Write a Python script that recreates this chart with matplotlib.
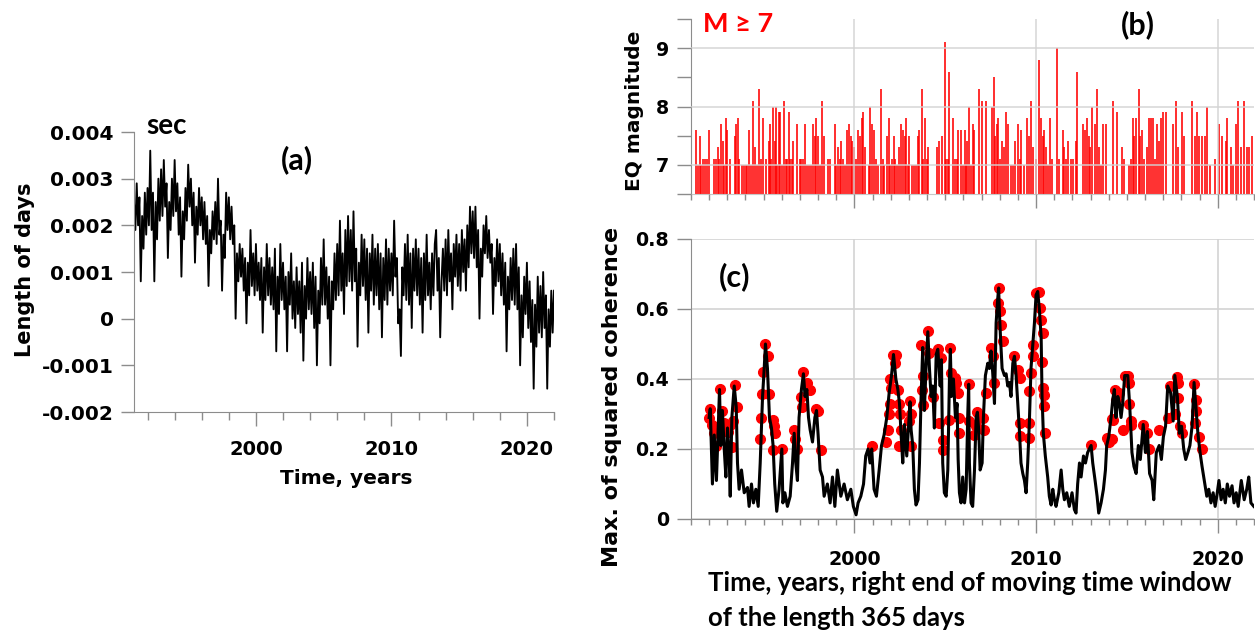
import matplotlib
matplotlib.use("Agg")
import matplotlib.pyplot as plt
from matplotlib.ticker import FixedLocator, MultipleLocator, NullFormatter
import numpy as np

# ---------------- data ----------------
# (a) length of day excess, ms, sampled every 0.1 yr from 1991.0
lod_start = 1991.0
lod_step = 0.1
lod_ms = [
    2.5, 1.9, 2.9, 2.0, 2.6, 0.8, 2.2, 1.5, 2.7, 1.8,
    2.8, 2.0, 3.6, 1.9, 2.7, 0.8, 2.5, 1.7, 3.0, 2.1,
    3.2, 2.2, 3.4, 2.4, 2.9, 1.3, 2.5, 1.9, 3.0, 2.2,
    3.4, 2.3, 2.9, 1.8, 2.6, 0.9, 2.3, 1.7, 2.8, 2.1,
    3.3, 2.4, 3.0, 2.0, 2.7, 1.2, 2.4, 1.8, 2.8, 2.0,
    2.6, 1.7, 2.5, 1.6, 2.2, 0.7, 1.9, 1.4, 2.3, 1.7,
    2.5, 1.6, 3.0, 1.8, 2.1, 0.6, 1.8, 1.3, 2.7, 1.9,
    2.6, 1.7, 2.4, 1.6, 2.0, 0.0, 1.4, 0.8, 1.6, 0.9,
    1.5, 0.6, 1.3, -0.1, 1.2, 0.5, 1.9, 0.7, 1.4, 0.5,
    1.6, 0.6, 1.2, 0.4, 1.3, -0.3, 1.1, 0.4, 1.6, 0.5,
    1.3, 0.3, 1.1, 0.2, 1.5, -0.7, 0.9, 0.1, 1.6, 0.4,
    1.2, 0.2, 0.9, -0.7, 1.0, 0.3, 1.4, 0.0, 0.8, -0.2,
    1.1, 0.1, 0.8, -0.3, 1.2, -0.9, 0.7, 0.0, 1.3, 0.2,
    1.0, 0.1, 1.2, -0.2, 0.9, -1.0, 0.6, -0.1, 1.3, 0.3,
    1.7, 0.3, 1.1, 0.0, 0.9, -1.0, 0.8, 0.2, 1.4, 0.4,
    1.6, 0.5, 2.1, 0.6, 1.4, 0.1, 1.9, 0.7, 2.2, 0.8,
    1.9, 0.6, 2.3, 0.8, 1.5, -0.6, 1.2, 0.5, 1.8, 0.7,
    1.7, 0.4, 1.5, -0.3, 1.4, 0.6, 1.8, 0.3, 1.5, 0.5,
    1.6, 0.2, 1.4, -0.4, 1.3, 0.4, 1.7, 0.3, 1.5, 0.6,
    1.4, 0.5, 2.1, 0.9, 1.3, -0.1, 0.2, -0.8, 1.1, 0.5,
    1.6, 0.4, 1.8, 0.3, 1.4, -0.2, 1.5, 0.6, 1.7, 0.5,
    1.5, 0.3, 1.3, -0.3, 1.4, 0.4, 1.8, 0.5, 1.2, 0.2,
    1.4, 0.5, 1.6, 1.9, 0.6, 1.3, -0.4, 0.8, 1.5, 0.6,
    1.7, 0.5, 1.9, 0.8, 1.4, 0.2, 1.6, 0.9, 1.8, 0.7,
    1.6, 0.6, 1.9, 1.0, 1.7, 0.6, 2.0, 1.1, 2.4, 1.4,
    2.3, 1.3, 2.4, 1.1, 1.9, 0.0, 1.5, 0.9, 2.0, 1.4,
    2.2, 1.3, 1.9, 1.2, 1.6, 0.1, 1.3, 0.7, 1.7, 0.8,
    1.6, 0.5, 1.4, 0.3, 1.2, -0.7, 0.9, 0.2, 1.3, 0.4,
    1.5, 0.3, 1.6, 0.2, 1.1, -1.0, 0.5, -0.4, 0.9, 0.1,
    1.2, -0.2, 0.8, -0.5, 0.4, -1.5, 0.3, -0.6, 0.9, -0.3,
    0.7, -0.4, 1.0, -0.2, 0.5, -1.5, 0.2, -0.6, 0.6, -0.3,
    0.6,
]
lod_ticks = [-0.002, -0.001, 0.0, 0.001, 0.002, 0.003, 0.004]
lod_ticklabels = ["-0.002", "-0.001", "0", "0.001", "0.002", "0.003", "0.004"]

# (b) earthquakes M >= 7: time (yr) and magnitude
eq_years = [
    1991.00, 1991.29, 1991.39, 1991.48, 1991.57, 1991.66, 1991.75, 1991.86, 1991.97,
    1992.28, 1992.38, 1992.47, 1992.56, 1992.65, 1992.74, 1992.83, 1992.91, 1993.00,
    1993.17, 1993.40, 1993.50, 1993.59, 1993.66, 1993.83, 1993.92, 1994.01, 1994.08,
    1994.17, 1994.32, 1994.41, 1994.52, 1994.65, 1994.74, 1994.83, 1994.96,
    1995.11, 1995.28, 1995.35, 1995.42, 1995.51, 1995.61, 1995.68, 1995.75, 1995.84, 1995.92,
    1996.01, 1996.12, 1996.21, 1996.28, 1996.38, 1996.47, 1996.54, 1996.61, 1996.82,
    1996.98, 1997.07, 1997.15, 1997.28, 1997.37, 1997.48, 1997.59, 1997.72, 1997.81, 1997.90, 1997.99,
    1998.12, 1998.21,
    1998.33, 1998.55, 1998.64, 1998.92, 1999.01, 1999.12, 1999.21, 1999.28, 1999.38, 1999.47,
    1999.61, 1999.71, 1999.80, 1999.89, 1999.98,
    2000.07, 2000.22, 2000.31, 2000.40, 2000.48, 2000.59, 2000.81, 2000.88, 2000.97,
    2001.06, 2001.16, 2001.27, 2001.47, 2001.56, 2001.65, 2001.80, 2001.89, 2001.96,
    2002.07, 2002.17, 2002.26, 2002.37, 2002.48, 2002.59, 2002.68, 2002.77, 2002.84, 2002.94,
    2003.03, 2003.17, 2003.30, 2003.39, 2003.50, 2003.58, 2003.72, 2003.80, 2003.89, 2003.98,
    2004.07, 2004.53, 2004.64, 2004.83, 2004.97, 2005.06, 2005.14, 2005.23, 2005.41, 2005.54,
    2005.65, 2005.72, 2005.85, 2005.96,
    2006.06, 2006.15, 2006.22, 2006.31, 2006.39, 2006.50, 2006.59,
    2006.84, 2007.01, 2007.25, 2007.58, 2007.67, 2007.74, 2007.83, 2007.93, 2008.00, 2008.13,
    2008.26, 2008.35, 2008.48, 2008.61, 2008.72, 2008.84, 2008.99, 2009.10, 2009.19, 2009.36,
    2009.50, 2009.61, 2009.72, 2009.82,
    2010.00, 2010.17, 2010.26, 2010.39, 2010.46, 2010.57, 2010.68, 2010.79, 2010.88, 2011.17,
    2011.27, 2011.49, 2011.56, 2011.65, 2011.78, 2011.93,
    2012.04, 2012.18, 2012.26, 2012.59, 2012.68, 2012.79, 2012.92, 2012.99, 2013.08, 2013.25,
    2013.36, 2013.49, 2013.58, 2013.71, 2013.83,
    2014.24, 2014.46, 2014.73, 2014.86,
    2015.12, 2015.23, 2015.32, 2015.42, 2015.53, 2015.65, 2015.74, 2015.86, 2015.97,
    2016.09, 2016.20, 2016.32, 2016.44, 2016.55, 2016.67, 2016.78, 2016.90, 2017.01, 2017.13,
    2017.55, 2017.71, 2017.82, 2018.01, 2018.13, 2018.59, 2018.75, 2018.87, 2018.98,
    2019.14, 2019.28, 2019.40, 2019.56, 2019.84, 2020.07, 2020.25, 2020.44, 2020.53, 2020.72,
    2020.83, 2021.02, 2021.11, 2021.30, 2021.46, 2021.60, 2021.71, 2021.88,
]
eq_mag = [
    7.0, 7.6, 7.0, 7.5, 7.0, 7.1, 7.1, 7.1, 7.6,
    7.1, 7.1, 7.3, 7.1, 7.7, 7.4, 7.0, 7.8, 7.6,
    7.1, 7.5, 7.7, 7.8, 7.1, 7.0, 7.0, 7.0, 7.0,
    7.6, 7.0, 8.1, 7.3, 7.0, 8.3, 7.1, 7.8,
    7.1, 7.4, 7.7, 7.1, 8.0, 7.4, 8.0, 7.0, 7.9, 7.9,
    7.0, 8.1, 7.1, 7.1, 7.9, 7.1, 7.1, 7.4, 7.7,
    7.1, 7.1, 7.1, 7.7, 7.0, 7.0, 7.0, 7.7, 7.5, 7.8, 7.5,
    7.0, 8.1,
    7.5, 7.1, 7.1, 7.7, 7.0, 7.3, 7.1, 7.4, 7.1, 7.0,
    7.6, 7.7, 7.5, 7.4, 7.3,
    7.1, 7.6, 7.5, 7.8, 7.9, 7.3, 7.0, 8.0, 7.7,
    7.6, 7.1, 7.0, 8.3, 7.1, 7.0, 7.5, 7.8, 7.0,
    7.1, 7.5, 7.1, 7.0, 7.3, 7.7, 7.6, 7.5, 7.8, 7.0,
    7.5, 7.0, 7.0, 7.0, 7.5, 7.6, 8.3, 7.1, 7.8, 7.1,
    7.3, 7.3, 7.4, 7.5, 9.1, 7.1, 7.1, 8.6, 7.8, 7.1,
    7.1, 7.6, 7.6, 7.0,
    7.6, 7.0, 7.4, 8.0, 7.0, 7.7, 7.6,
    8.3, 8.1, 8.1, 8.0, 8.5, 7.5, 7.7, 7.8, 7.1, 7.4,
    7.3, 7.9, 7.7, 7.0, 7.0, 7.4, 7.7, 7.1, 7.6, 7.0,
    7.8, 7.5, 8.1, 7.3,
    7.1, 8.8, 7.8, 7.5, 7.6, 7.3, 7.0, 7.8, 7.1, 9.0,
    7.1, 7.6, 7.3, 7.1, 7.4, 7.1,
    7.1, 7.4, 8.6, 7.7, 7.6, 7.8, 7.5, 7.3, 8.0, 7.7,
    8.3, 7.3, 7.0, 7.7, 7.7,
    8.1, 7.9, 7.3, 7.1,
    7.0, 7.1, 7.8, 7.5, 7.8, 8.3, 7.5, 7.6, 7.1,
    7.3, 7.8, 7.8, 7.8, 7.1, 7.7, 7.4, 7.8, 7.9, 7.9,
    7.7, 8.1, 7.3, 7.9, 7.5, 8.1, 7.5, 7.9, 7.5,
    7.5, 7.5, 8.0, 7.0, 7.1, 7.7, 7.5, 7.4, 7.8, 7.3,
    7.0, 7.7, 8.1, 7.3, 8.1, 7.3, 7.3, 7.5,
]
mag_ticks = [7, 8, 9]
mag_ticklabels = ["7", "8", "9"]

# (c) maximum of squared coherence (right end of 365-day window)
coh_years = [
    1992.00, 1992.06, 1992.18, 1992.28, 1992.40, 1992.57, 1992.64, 1992.73, 1992.83, 1992.92,
    1993.01, 1993.10, 1993.16, 1993.25, 1993.38, 1993.49, 1993.56, 1993.65, 1993.78, 1993.93,
    1994.11, 1994.20, 1994.33, 1994.44, 1994.57, 1994.70, 1994.81, 1994.94, 1995.03, 1995.10,
    1995.21, 1995.32, 1995.43, 1995.52, 1995.61, 1995.72, 1995.85, 1996.00, 1996.06, 1996.17,
    1996.31, 1996.46, 1996.59, 1996.68, 1996.77, 1996.86, 1996.95, 1997.08, 1997.19, 1997.28,
    1997.38, 1997.47, 1997.56, 1997.69, 1997.82, 1997.91, 1998.00, 1998.11, 1998.24, 1998.33,
    1998.51, 1998.66, 1998.79, 1998.92, 1999.06, 1999.25, 1999.43, 1999.61, 1999.80, 1999.94,
    2000.09, 2000.20, 2000.35, 2000.50, 2000.62, 2000.75, 2000.86, 2000.95, 2001.08, 2001.21,
    2001.36, 2001.49, 2001.63, 2001.78, 2001.91, 2002.04, 2002.15, 2002.28, 2002.39, 2002.48,
    2002.57, 2002.66, 2002.75, 2002.88, 2003.06, 2003.12, 2003.21, 2003.30, 2003.39, 2003.50,
    2003.58, 2003.67, 2003.76, 2003.85, 2003.94, 2004.04, 2004.13, 2004.22, 2004.31, 2004.40,
    2004.50, 2004.59, 2004.72, 2004.79, 2004.86, 2004.95, 2005.05, 2005.14, 2005.23, 2005.28,
    2005.34, 2005.45, 2005.56, 2005.65, 2005.71, 2005.78, 2005.87, 2005.96, 2006.06, 2006.15,
    2006.24, 2006.29, 2006.33, 2006.42, 2006.51, 2006.61, 2006.70, 2006.77, 2006.84, 2006.92,
    2007.03, 2007.10, 2007.21, 2007.34, 2007.43, 2007.52, 2007.61, 2007.71, 2007.80, 2007.89,
    2007.94, 2007.98, 2008.06, 2008.13, 2008.26, 2008.35, 2008.44, 2008.53, 2008.62, 2008.72,
    2008.81, 2008.90, 2008.99, 2009.08, 2009.17, 2009.27, 2009.36, 2009.45, 2009.54, 2009.63,
    2009.72, 2009.82, 2009.91, 2010.00, 2010.09, 2010.18, 2010.28, 2010.33, 2010.40, 2010.51,
    2010.64, 2010.73, 2010.83, 2010.92, 2011.01, 2011.10, 2011.25, 2011.38, 2011.47, 2011.56,
    2011.69, 2011.83, 2011.98, 2012.11, 2012.20, 2012.29, 2012.39, 2012.48, 2012.61, 2012.72,
    2012.84, 2013.03, 2013.12, 2013.25, 2013.36, 2013.45, 2013.58, 2013.71, 2013.82, 2013.89,
    2014.00, 2014.13, 2014.22, 2014.31, 2014.40, 2014.50, 2014.59, 2014.68, 2014.77, 2014.88,
    2015.05, 2015.16, 2015.28, 2015.39, 2015.51, 2015.63, 2015.74, 2015.90, 2016.02, 2016.13,
    2016.25, 2016.39, 2016.48, 2016.62, 2016.78, 2016.90, 2017.01, 2017.13, 2017.25, 2017.41,
    2017.55, 2017.64, 2017.78, 2017.89, 2018.01, 2018.13, 2018.24, 2018.36, 2018.47, 2018.59,
    2018.70, 2018.80, 2018.91, 2019.03, 2019.14, 2019.26, 2019.40, 2019.51, 2019.63, 2019.75,
    2019.86, 2019.95, 2020.07, 2020.19, 2020.30, 2020.42, 2020.53, 2020.65, 2020.79, 2020.90,
    2021.02, 2021.13, 2021.30, 2021.46, 2021.60, 2021.71, 2021.83, 2021.99,
]
coh_vals = [
    0.29, 0.315, 0.10, 0.24, 0.11, 0.37, 0.21, 0.31, 0.20, 0.12,
    0.26, 0.18, 0.065, 0.29, 0.38, 0.32, 0.16, 0.085, 0.14, 0.075,
    0.09, 0.036, 0.10, 0.046, 0.085, 0.036, 0.16, 0.35, 0.43, 0.50,
    0.43, 0.29, 0.26, 0.21, 0.10, 0.022, 0.085, 0.20, 0.046, 0.075,
    0.036, 0.065, 0.16, 0.245, 0.16, 0.11, 0.29, 0.37, 0.415, 0.35,
    0.37, 0.29, 0.255, 0.22, 0.29, 0.31, 0.24, 0.14, 0.12, 0.065,
    0.10, 0.046, 0.12, 0.036, 0.14, 0.065, 0.10, 0.055, 0.085, 0.036,
    0.012, 0.046, 0.065, 0.10, 0.18, 0.20, 0.16, 0.20, 0.085, 0.065,
    0.14, 0.21, 0.24, 0.29, 0.36, 0.41, 0.47, 0.40, 0.37, 0.33,
    0.24, 0.16, 0.27, 0.18, 0.335, 0.255, 0.21, 0.085, 0.04, 0.055,
    0.16, 0.35, 0.49, 0.31, 0.43, 0.535, 0.43, 0.35, 0.38, 0.26,
    0.47, 0.485, 0.38, 0.455, 0.16, 0.075, 0.065, 0.14, 0.40, 0.485,
    0.35, 0.40, 0.29, 0.33, 0.17, 0.075, 0.046, 0.12, 0.046, 0.085,
    0.30, 0.385, 0.16, 0.046, 0.036, 0.14, 0.29, 0.305, 0.255, 0.14,
    0.16, 0.29, 0.41, 0.445, 0.43, 0.48, 0.42, 0.33, 0.56, 0.63,
    0.66, 0.59, 0.50, 0.43, 0.41, 0.415, 0.38, 0.39, 0.35, 0.445,
    0.465, 0.41, 0.33, 0.255, 0.16, 0.13, 0.11, 0.075, 0.16, 0.275,
    0.43, 0.50, 0.56, 0.64, 0.65, 0.60, 0.52, 0.35, 0.245, 0.18,
    0.12, 0.065, 0.04, 0.085, 0.055, 0.036, 0.075, 0.14, 0.085, 0.055,
    0.075, 0.036, 0.075, 0.027, 0.017, 0.10, 0.16, 0.12, 0.18, 0.16,
    0.19, 0.21, 0.16, 0.11, 0.065, 0.017, 0.046, 0.085, 0.14, 0.21,
    0.235, 0.29, 0.34, 0.37, 0.29, 0.35, 0.33, 0.29, 0.33, 0.41,
    0.41, 0.32, 0.19, 0.15, 0.13, 0.21, 0.17, 0.27, 0.19, 0.25,
    0.13, 0.11, 0.055, 0.19, 0.21, 0.17, 0.235, 0.265, 0.38, 0.36,
    0.28, 0.41, 0.35, 0.245, 0.265, 0.20, 0.17, 0.19, 0.21, 0.265,
    0.39, 0.32, 0.245, 0.19, 0.15, 0.11, 0.065, 0.085, 0.046, 0.075,
    0.036, 0.065, 0.11, 0.055, 0.085, 0.046, 0.10, 0.065, 0.095, 0.046,
    0.075, 0.036, 0.11, 0.055, 0.085, 0.12, 0.046, 0.036,
]
# coherence values at earthquake times (red dots)
dot_years = [
    1992.00, 1992.04, 1992.13, 1992.28, 1992.37, 1992.57, 1992.68, 1992.79, 1993.01, 1993.16,
    1993.25, 1993.34, 1993.43, 1993.54, 1994.81, 1994.84, 1994.90, 1994.95, 1995.08, 1995.25,
    1995.32, 1995.49, 1995.55, 1995.61, 1995.50, 1996.00, 1996.68, 1996.72, 1996.86, 1997.05,
    1997.10, 1997.19, 1997.41, 1997.56, 1997.91, 1998.02, 1998.18, 2000.95, 2001.72, 2001.82,
    2001.91, 2001.94, 2001.96, 2002.00, 2002.15, 2002.22, 2002.29, 2002.39, 2002.48, 2002.51,
    2002.57, 2002.44, 2003.06, 2003.12, 2003.03, 2003.12, 2003.67, 2003.76, 2004.04, 2003.72,
    2003.76, 2004.13, 2004.31, 2004.59, 2004.77, 2004.68, 2004.86, 2004.86, 2005.28, 2005.34,
    2005.52, 2005.60, 2005.69, 2005.78, 2005.78, 2005.23, 2006.29, 2006.29, 2006.77, 2006.70,
    2006.61, 2007.10, 2007.16, 2007.25, 2007.52, 2007.61, 2007.71, 2007.94, 2007.89, 2008.02,
    2008.07, 2008.17, 2008.81, 2008.99, 2009.12, 2009.12, 2009.12, 2009.63, 2009.63, 2009.63,
    2009.72, 2009.82, 2009.82, 2010.00, 2010.15, 2010.22, 2010.28, 2010.37, 2010.33, 2010.37,
    2010.42, 2010.46, 2010.51, 2013.03, 2013.89, 2014.00, 2014.17, 2014.17, 2014.22, 2014.35,
    2014.40, 2014.58, 2014.77, 2014.88, 2015.05, 2015.09, 2015.09, 2015.23, 2015.23, 2015.90,
    2016.09, 2016.20, 2016.78, 2017.25, 2017.36, 2017.64, 2017.78, 2017.82, 2017.82, 2017.94,
    2018.06, 2018.70, 2018.80, 2018.80, 2018.75, 2018.98, 2019.14,
]
dot_vals = [
    0.29, 0.315, 0.27, 0.245, 0.21, 0.372, 0.31, 0.275, 0.25, 0.27,
    0.205, 0.28, 0.382, 0.32, 0.23, 0.29, 0.356, 0.42, 0.50, 0.465,
    0.358, 0.284, 0.265, 0.245, 0.198, 0.20, 0.255, 0.23, 0.20, 0.35,
    0.32, 0.42, 0.39, 0.37, 0.315, 0.31, 0.196, 0.208, 0.22, 0.255,
    0.30, 0.40, 0.33, 0.375, 0.47, 0.445, 0.47, 0.37, 0.33, 0.30,
    0.255, 0.21, 0.336, 0.30, 0.28, 0.21, 0.498, 0.41, 0.536, 0.37,
    0.327, 0.474, 0.35, 0.486, 0.46, 0.274, 0.227, 0.198, 0.489, 0.417,
    0.403, 0.39, 0.36, 0.29, 0.246, 0.284, 0.387, 0.28, 0.305, 0.265,
    0.24, 0.289, 0.255, 0.36, 0.489, 0.465, 0.389, 0.66, 0.617, 0.593,
    0.555, 0.508, 0.467, 0.427, 0.403, 0.274, 0.236, 0.274, 0.231, 0.365,
    0.417, 0.465, 0.498, 0.646, 0.65, 0.603, 0.57, 0.531, 0.45, 0.374,
    0.355, 0.322, 0.246, 0.212, 0.231, 0.22, 0.285, 0.23, 0.284, 0.37,
    0.34, 0.36, 0.255, 0.41, 0.41, 0.39, 0.33, 0.28, 0.27, 0.27,
    0.245, 0.20, 0.255, 0.29, 0.38, 0.30, 0.405, 0.39, 0.345, 0.265,
    0.245, 0.385, 0.34, 0.31, 0.275, 0.235, 0.20,
]
coh_ticks = [0.0, 0.2, 0.4, 0.6, 0.8]
coh_ticklabels = ["0", "0.2", "0.4", "0.6", "0.8"]

year_ticks = [2000, 2010, 2020]
year_ticklabels = ["2000", "2010", "2020"]

# ---------------- figure ----------------
plt.rcParams["font.family"] = ["DejaVu Sans"]
plt.rcParams["font.weight"] = "bold"

W, H = 1255, 632
fig = plt.figure(figsize=(W / 100, H / 100), dpi=100)


def box(l, t, r, b):
    return [l / W, 1 - b / H, (r - l) / W, (b - t) / H]


def fx(x):
    return x / W


def fy(y):
    return 1 - y / H


SPINE = "#8c8c8c"
GRID = "#d3d3d3"
CAL = ["Lato", "DejaVu Sans"]

# ---- panel (a)
axa = fig.add_axes(box(134, 132, 554, 412))
lod_years = lod_start + lod_step * np.arange(len(lod_ms))
axa.plot(lod_years, np.array(lod_ms) / 1000.0, color="black", lw=1.35)
axa.set_xlim(1991.0, 2022.0)
axa.set_ylim(-0.002, 0.004)
for s in ("top", "right"):
    axa.spines[s].set_visible(False)
for s in ("left", "bottom"):
    axa.spines[s].set_color(SPINE)
axa.set_yticks(lod_ticks)
axa.set_yticklabels(lod_ticklabels)
axa.xaxis.set_major_locator(FixedLocator(year_ticks))
axa.set_xticklabels(year_ticklabels)
axa.xaxis.set_minor_locator(MultipleLocator(2))
axa.tick_params(which="both", direction="out", color=SPINE, width=1)
axa.tick_params(axis="x", which="major", length=10, pad=10, labelsize=14)
axa.tick_params(axis="x", which="minor", length=5.5)
axa.tick_params(axis="y", which="major", length=9.5, pad=5, labelsize=14.5)

# ---- panel (b)
axb = fig.add_axes(box(691, 19, 1254, 194))
axb.vlines(eq_years, 6.5, eq_mag, color="red", lw=1.15, zorder=1)
axb.set_xlim(1991.0, 2022.0)
axb.set_ylim(6.5, 9.5)
axb.set_yticks(mag_ticks)
axb.set_yticklabels(mag_ticklabels)
axb.yaxis.set_minor_locator(FixedLocator([6.5, 7.5, 8.5, 9.5]))
axb.xaxis.set_major_locator(FixedLocator(year_ticks))
axb.xaxis.set_major_formatter(NullFormatter())
axb.xaxis.set_minor_locator(MultipleLocator(1))
axb.grid(True, which="major", color=GRID, lw=1.2, alpha=0.85, zorder=2)
axb.set_axisbelow(False)
for s in ("top", "right"):
    axb.spines[s].set_visible(False)
axb.spines["left"].set_color(SPINE)
axb.spines["bottom"].set_color("#c8c8c8")
axb.tick_params(which="both", direction="out", color=SPINE, width=1)
axb.tick_params(axis="y", which="both", length=10, pad=6, labelsize=13.7)
axb.tick_params(axis="x", which="major", length=10)
axb.tick_params(axis="x", which="minor", length=4.5)

# ---- panel (c)
axc = fig.add_axes(box(691, 239, 1254, 519))
axc.set_axisbelow(True)
axc.plot(dot_years, dot_vals, "o", color="red", ms=7, mec="red", zorder=2)
axc.plot(coh_years, coh_vals, color="black", lw=2.2, zorder=3)
axc.set_xlim(1991.0, 2022.0)
axc.set_ylim(0, 0.8)
axc.set_yticks(coh_ticks)
axc.set_yticklabels(coh_ticklabels)
axc.xaxis.set_major_locator(FixedLocator(year_ticks))
axc.set_xticklabels(year_ticklabels)
axc.xaxis.set_minor_locator(MultipleLocator(1))
axc.grid(True, which="major", color=GRID, lw=1.2)
for s in ("top", "right"):
    axc.spines[s].set_visible(False)
axc.spines["left"].set_color(SPINE)
axc.spines["bottom"].set_color(SPINE)
axc.tick_params(which="both", direction="out", color=SPINE, width=1)
axc.tick_params(axis="y", which="major", length=10, pad=6, labelsize=13.7)
axc.tick_params(axis="x", which="major", length=10, pad=12, labelsize=13.7)
axc.tick_params(axis="x", which="minor", length=4.5)

# ---- texts
fig.text(fx(25), fy(270), "Length of days", rotation=90, ha="center", va="center",
         fontsize=15, fontweight="bold")
fig.text(fx(346), fy(478), "Time, years", ha="center", va="center",
         fontsize=14.5, fontweight="bold")
fig.text(fx(634), fy(111), "EQ magnitude", rotation=90, ha="center", va="center",
         fontsize=14.5, fontweight="bold")
fig.text(fx(612), fy(397), "Max. of squared coherence", rotation=90, ha="center",
         va="center", fontsize=16, fontweight="bold")

fig.text(fx(167), fy(126), "sec", family=CAL, fontsize=20, fontweight="bold",
         ha="center", va="center")
fig.text(fx(297), fy(160), "(a)", family=CAL, fontsize=22, fontweight="bold",
         ha="center", va="center")
fig.text(fx(1138), fy(25), "(b)", family=CAL, fontsize=22, fontweight="bold",
         ha="center", va="center")
fig.text(fx(735), fy(277), "(c)", family=CAL, fontsize=22, fontweight="bold",
         ha="center", va="center")
fig.text(fx(738), fy(24), "M \u2265 7", family=CAL, fontsize=19.5, fontweight="bold",
         color="red", ha="center", va="center")
fig.text(fx(708), fy(583), "Time, years, right end of moving time window", family=CAL,
         fontsize=18.5, fontweight="bold", ha="left", va="center")
fig.text(fx(708), fy(618), "of the length 365 days", family=CAL,
         fontsize=18.5, fontweight="bold", ha="left", va="center")

fig.savefig("out.png", dpi=100)
